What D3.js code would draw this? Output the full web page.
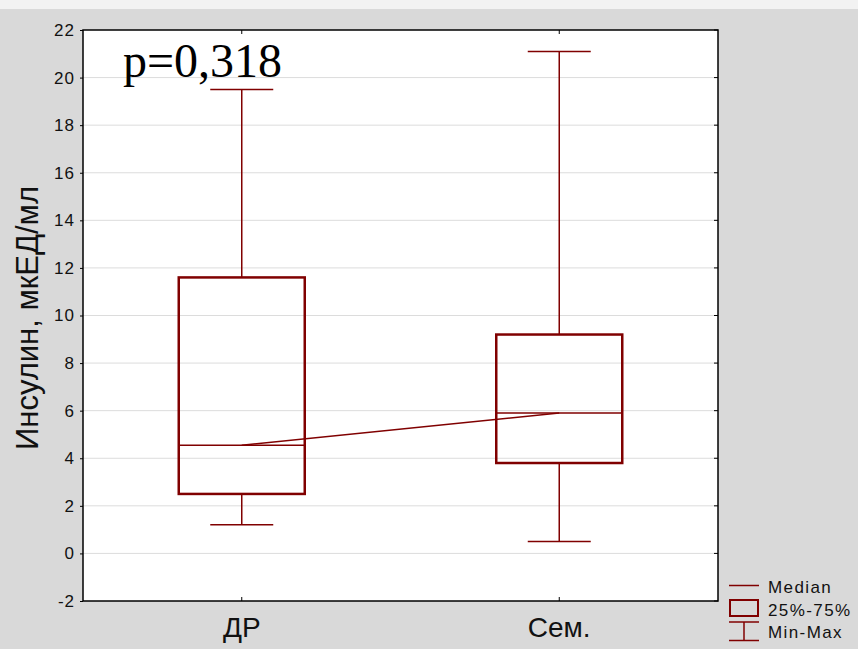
<!DOCTYPE html>
<html>
<head>
<meta charset="utf-8">
<title>Insulin boxplot</title>
<style>
  body { margin: 0; background: #d9d9d9; }
  svg { display: block; font-family: "Liberation Sans", Arial, sans-serif; }
</style>
<script src="https://d3js.org/d3.v7.min.js"></script>
</head>
<body>
<svg id="chart" width="858" height="649"></svg>
<script>
// data
const categories = ["ДР", "Сем."];
const minVals = [1.2, 0.5];
const q1Vals = [2.5, 3.8];
const medianVals = [4.55, 5.9];
const q3Vals = [11.6, 9.2];
const maxVals = [19.5, 21.1];
const yTicks = [-2, 0, 2, 4, 6, 8, 10, 12, 14, 16, 18, 20, 22];
const legendItems = ["Median", "25%-75%", "Min-Max"];
const pText = "p=0,318";

const red = "#800000";
const svg = d3.select("#chart");

// backgrounds
svg.append("rect").attr("width", 858).attr("height", 649).attr("fill", "#d9d9d9");
svg.append("rect").attr("width", 858).attr("height", 9).attr("fill", "#f2f2f2");

const pLeft = 83, pRight = 718, pTop = 30, pBottom = 601;

const x = d3.scaleBand().domain(categories).range([pLeft, pRight]);
const y = d3.scaleLinear().domain([-2, 22]).range([pBottom, pTop]);

svg.append("rect")
  .attr("x", pLeft).attr("y", pTop)
  .attr("width", pRight - pLeft).attr("height", pBottom - pTop)
  .attr("fill", "#fff");

// grid
svg.append("g").selectAll("line")
  .data(yTicks.filter(t => t > -2 && t < 22))
  .join("line")
  .attr("x1", pLeft).attr("x2", pRight)
  .attr("y1", d => y(d)).attr("y2", d => y(d))
  .attr("stroke", "#dcdcdc").attr("stroke-width", 1);

// left axis
const yAxis = svg.append("g")
  .attr("transform", `translate(${pLeft},0)`)
  .call(d3.axisLeft(y).tickValues(yTicks).tickFormat(d => String(d)).tickSize(3).tickPadding(5));
yAxis.select(".domain").remove();
yAxis.attr("font-family", null).attr("font-size", null);
yAxis.selectAll("line").attr("stroke", "#000");
yAxis.selectAll("text")
  .attr("font-size", 17)
  .attr("letter-spacing", 1)
  .attr("fill", "#111");

// right inner ticks
svg.append("g").selectAll("line")
  .data(yTicks)
  .join("line")
  .attr("x1", pRight - 4).attr("x2", pRight)
  .attr("y1", d => y(d)).attr("y2", d => y(d))
  .attr("stroke", "#000");

// category ticks top and bottom (inward)
const cx = d => x(d) + x.bandwidth() / 2;
svg.append("g").selectAll("line")
  .data(categories)
  .join("line")
  .attr("x1", cx).attr("x2", cx)
  .attr("y1", pBottom - 4).attr("y2", pBottom)
  .attr("stroke", "#000");
svg.append("g").selectAll("line")
  .data(categories)
  .join("line")
  .attr("x1", cx).attr("x2", cx)
  .attr("y1", pTop).attr("y2", pTop + 4)
  .attr("stroke", "#000");

// category labels
svg.append("g").selectAll("text")
  .data(categories)
  .join("text")
  .attr("x", cx).attr("y", 637)
  .attr("text-anchor", "middle")
  .attr("font-size", 28)
  .attr("fill", "#111")
  .text(d => d);

// y title
svg.append("text")
  .attr("transform", "translate(38,318) rotate(-90)")
  .attr("text-anchor", "middle")
  .attr("font-size", 31)
  .attr("fill", "#111")
  .text("Инсулин, мкЕД/мл");

// boxes
const boxHalf = 63, capHalf = 31.5;
const rows = categories.map((c, i) => ({
  c, min: minVals[i], q1: q1Vals[i], med: medianVals[i], q3: q3Vals[i], max: maxVals[i]
}));

const g = svg.append("g");
// whiskers
g.append("g").selectAll("line")
  .data(rows.flatMap(r => [[r, r.max, r.q3], [r, r.min, r.q1]]))
  .join("line")
  .attr("x1", d => cx(d[0].c)).attr("x2", d => cx(d[0].c))
  .attr("y1", d => y(d[1])).attr("y2", d => y(d[2]))
  .attr("stroke", red).attr("stroke-width", 1.5);
g.append("g").selectAll("line")
  .data(rows.flatMap(r => [[r, r.max], [r, r.min]]))
  .join("line")
  .attr("x1", d => cx(d[0].c) - capHalf).attr("x2", d => cx(d[0].c) + capHalf)
  .attr("y1", d => y(d[1])).attr("y2", d => y(d[1]))
  .attr("stroke", red).attr("stroke-width", 1.5);
g.append("g").selectAll("rect")
  .data(rows)
  .join("rect")
  .attr("x", d => cx(d.c) - boxHalf)
  .attr("y", d => y(d.q3))
  .attr("width", boxHalf * 2)
  .attr("height", d => y(d.q1) - y(d.q3))
  .attr("fill", "none")
  .attr("stroke", red).attr("stroke-width", 2.5);
g.append("g").selectAll("line")
  .data(rows)
  .join("line")
  .attr("x1", d => cx(d.c) - boxHalf).attr("x2", d => cx(d.c) + boxHalf)
  .attr("y1", d => y(d.med)).attr("y2", d => y(d.med))
  .attr("stroke", red).attr("stroke-width", 1.5);
// line through medians
g.append("path")
  .datum(rows)
  .attr("d", d3.line().x(d => cx(d.c)).y(d => y(d.med)))
  .attr("fill", "none")
  .attr("stroke", red).attr("stroke-width", 1.5);

// frame
svg.append("rect")
  .attr("x", pLeft).attr("y", pTop)
  .attr("width", pRight - pLeft).attr("height", pBottom - pTop)
  .attr("fill", "none").attr("stroke", "#000").attr("stroke-width", 1.5);

// p value
svg.append("text")
  .attr("x", 123).attr("y", 77)
  .attr("font-family", "'Liberation Serif', 'Times New Roman', serif")
  .attr("font-size", 48)
  .attr("fill", "#000")
  .text(pText);

// legend
const lg = svg.append("g");
const lx = 729, lw = 30;
// median symbol
lg.append("line").attr("x1", lx).attr("x2", lx + lw).attr("y1", 585.5).attr("y2", 585.5)
  .attr("stroke", red).attr("stroke-width", 1.5);
// box symbol
lg.append("rect").attr("x", lx + 1).attr("y", 600).attr("width", lw - 2).attr("height", 16)
  .attr("fill", "none").attr("stroke", red).attr("stroke-width", 2);
// min-max symbol
lg.append("line").attr("x1", lx).attr("x2", lx + lw).attr("y1", 622).attr("y2", 622)
  .attr("stroke", red).attr("stroke-width", 1.5);
lg.append("line").attr("x1", lx).attr("x2", lx + lw).attr("y1", 640.5).attr("y2", 640.5)
  .attr("stroke", red).attr("stroke-width", 1.5);
lg.append("line").attr("x1", lx + lw / 2).attr("x2", lx + lw / 2).attr("y1", 622).attr("y2", 640.5)
  .attr("stroke", red).attr("stroke-width", 1.5);
lg.selectAll("text")
  .data(legendItems)
  .join("text")
  .attr("x", 768)
  .attr("y", (d, i) => 593 + i * 22.5)
  .attr("font-size", 17)
  .attr("letter-spacing", 1.4)
  .attr("fill", "#111")
  .text(d => d);
</script>
</body>
</html>
